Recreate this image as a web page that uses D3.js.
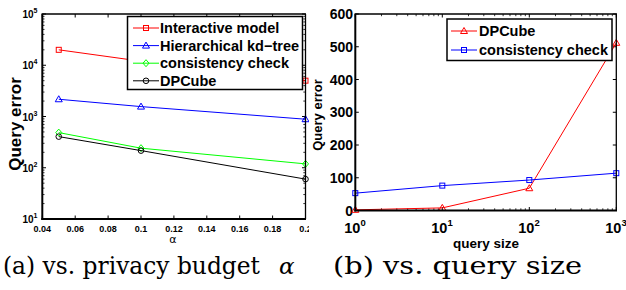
<html>
<head>
<style>
  body { margin: 0; background: #fff; }
  svg text { font-family: "Liberation Sans", Arial, sans-serif; font-weight: bold; }
</style>
</head>
<body>
<div id="fig"></div>
<script src="https://d3js.org/d3.v7.min.js"></script>
<script>
// (a) query error vs privacy budget alpha
const alphaVals = [0.05, 0.1, 0.2];
const interactiveErr = [20000, 12000, 5000];
const kdtreeErr = [2170, 1560, 885];
const consistencyErr = [485, 241, 119];
const dpcubeErr = [405, 216, 60];
const alphaTicks = [0.04, 0.06, 0.08, 0.1, 0.12, 0.14, 0.16, 0.18, 0.2];
const alphaTickLabels = ["0.04", "0.06", "0.08", "0.1", "0.12", "0.14", "0.16", "0.18", "0.2"];
const errExponents = [1, 2, 3, 4, 5];

// (b) query error vs query size
const querySizes = [1, 10, 100, 1000];
const dpcubeBySize = [2, 8, 68, 512];
const consistencyBySize = [53, 76, 93, 114];
const sizeExponents = [0, 1, 2, 3];
const errTicksB = [0, 100, 200, 300, 400, 500, 600];

const svg = d3.select("#fig").append("svg")
    .attr("width", 626).attr("height", 290);
svg.append("rect").attr("width", 626).attr("height", 290).attr("fill", "#fff");

// marker shapes
function marker(g, shape, cx, cy, color) {
    if (shape === "square") {
        g.append("rect").attr("x", cx - 2.5).attr("y", cy - 2.5).attr("width", 5).attr("height", 5)
            .attr("fill", "none").attr("stroke", color).attr("stroke-width", 1);
    } else if (shape === "triangle") {
        g.append("path").attr("d", `M${cx},${cy - 3.5}L${cx + 3.5},${cy + 2.5}L${cx - 3.5},${cy + 2.5}Z`)
            .attr("fill", "none").attr("stroke", color).attr("stroke-width", 1);
    } else if (shape === "diamond") {
        g.append("path").attr("d", `M${cx},${cy - 3.5}L${cx + 3},${cy}L${cx},${cy + 3.5}L${cx - 3},${cy}Z`)
            .attr("fill", "none").attr("stroke", color).attr("stroke-width", 1);
    } else {
        g.append("circle").attr("cx", cx).attr("cy", cy).attr("r", 2.8)
            .attr("fill", "none").attr("stroke", color).attr("stroke-width", 1);
    }
}

function series(g, xs, ys, x, y, color, shape) {
    const pts = xs.map((v, i) => [x(v), y(ys[i])]);
    g.append("path").attr("d", d3.line()(pts))
        .attr("fill", "none").attr("stroke", color).attr("stroke-width", 1);
    pts.forEach(p => marker(g, shape, p[0], p[1], color));
}

function legend(g, x0, y0, w, h, rows, lineX, textX, rowYs) {
    g.append("rect").attr("x", x0).attr("y", y0).attr("width", w).attr("height", h)
        .attr("fill", "#fff").attr("stroke", "#000").attr("stroke-width", 1.5);
    rows.forEach((r, i) => {
        const yy = rowYs[i];
        g.append("line").attr("x1", lineX).attr("x2", lineX + 26).attr("y1", yy).attr("y2", yy)
            .attr("stroke", r.color).attr("stroke-width", 1);
        marker(g, r.shape, lineX + 13, yy, r.color);
        g.append("text").attr("x", textX).attr("y", yy + 5)
            .style("font-size", "14.5px").text(r.name);
    });
}

// ---------- (a) ----------
svg.append("clipPath").attr("id", "clipA")
    .append("rect").attr("x", 0).attr("y", 0).attr("width", 309).attr("height", 290);
const gA = svg.append("g").attr("clip-path", "url(#clipA)");

const xA = d3.scaleLinear().domain([0.04, 0.2]).range([42.3, 305.5]);
const yA = d3.scaleLog().domain([10, 1e5]).range([219, 14]);

// minor log ticks
const minorA = [];
for (let e = 1; e < 5; e++) for (let k = 2; k <= 9; k++) minorA.push(k * Math.pow(10, e));

gA.append("g").selectAll("line").data(minorA).join("line")
    .attr("x1", 42.3).attr("x2", 44.5).attr("y1", d => yA(d)).attr("y2", d => yA(d))
    .attr("stroke", "#000").attr("stroke-width", 0.8);
gA.append("g").selectAll("line").data(minorA).join("line")
    .attr("x1", 305.5).attr("x2", 303.3).attr("y1", d => yA(d)).attr("y2", d => yA(d))
    .attr("stroke", "#000").attr("stroke-width", 0.8);

// major ticks
gA.append("g").selectAll("line").data(errExponents).join("line")
    .attr("x1", 42.3).attr("x2", 46).attr("y1", d => yA(Math.pow(10, d))).attr("y2", d => yA(Math.pow(10, d)))
    .attr("stroke", "#000");
gA.append("g").selectAll("line").data(errExponents).join("line")
    .attr("x1", 305.5).attr("x2", 302).attr("y1", d => yA(Math.pow(10, d))).attr("y2", d => yA(Math.pow(10, d)))
    .attr("stroke", "#000");
gA.append("g").selectAll("line").data(alphaTicks).join("line")
    .attr("x1", d => xA(d)).attr("x2", d => xA(d)).attr("y1", 219).attr("y2", 215.5)
    .attr("stroke", "#000");
gA.append("g").selectAll("line").data(alphaTicks).join("line")
    .attr("x1", d => xA(d)).attr("x2", d => xA(d)).attr("y1", 14).attr("y2", 17.5)
    .attr("stroke", "#000");

// y tick labels 10^n
const yLabA = gA.append("g").selectAll("text").data(errExponents).join("text")
    .attr("x", 37.5).attr("y", d => yA(Math.pow(10, d)) + 4)
    .attr("text-anchor", "end").style("font-size", "10px");
yLabA.append("tspan").text("10");
yLabA.append("tspan").attr("dy", -5).style("font-size", "7px").text(d => d);

// x tick labels
gA.append("g").selectAll("text").data(alphaTicks).join("text")
    .attr("x", d => xA(d)).attr("y", 231.5).attr("text-anchor", "middle")
    .style("font-size", "9px").text((d, i) => alphaTickLabels[i]);

// series
series(gA, alphaVals, interactiveErr, xA, yA, "#ff0000", "square");
series(gA, alphaVals, kdtreeErr, xA, yA, "#0000ff", "triangle");
series(gA, alphaVals, consistencyErr, xA, yA, "#00ff00", "diamond");
series(gA, alphaVals, dpcubeErr, xA, yA, "#000000", "circle");

// frame
gA.append("line").attr("x1", 42.3).attr("x2", 306).attr("y1", 14).attr("y2", 14).attr("stroke", "#000").attr("stroke-width", 1.3);
gA.append("line").attr("x1", 305.5).attr("x2", 305.5).attr("y1", 14).attr("y2", 219).attr("stroke", "#000").attr("stroke-width", 1.3);
gA.append("line").attr("x1", 42.3).attr("x2", 42.3).attr("y1", 13.5).attr("y2", 220).attr("stroke", "#000").attr("stroke-width", 2);
gA.append("line").attr("x1", 41.3).attr("x2", 306).attr("y1", 219).attr("y2", 219).attr("stroke", "#000").attr("stroke-width", 2);

legend(gA, 127.5, 16.5, 175, 73, [
    { name: "Interactive model", color: "#ff0000", shape: "square" },
    { name: "Hierarchical kd\u2212tree", color: "#0000ff", shape: "triangle" },
    { name: "consistency check", color: "#00ff00", shape: "diamond" },
    { name: "DPCube", color: "#000000", shape: "circle" }
], 133, 160, [28, 45.6, 63.2, 80.8]);

// axis labels
gA.append("text").attr("transform", "translate(21,124) rotate(-90)")
    .attr("text-anchor", "middle").style("font-size", "17px").text("Query error");
gA.append("text").attr("x", 173).attr("y", 243).attr("text-anchor", "middle")
    .style("font-family", "'DejaVu Sans', sans-serif").style("font-weight", "normal")
    .style("font-size", "11px").text("\u03b1");

// ---------- (b) ----------
const gB = svg.append("g");
const xB = d3.scaleLog().domain([1, 1000]).range([355.3, 616.3]);
const yB = d3.scaleLinear().domain([0, 600]).range([210.5, 14]);

const minorB = [];
for (let e = 0; e < 3; e++) for (let k = 2; k <= 9; k++) minorB.push(k * Math.pow(10, e));

gB.append("g").selectAll("line").data(minorB).join("line")
    .attr("x1", d => xB(d)).attr("x2", d => xB(d)).attr("y1", 210.5).attr("y2", 208.3)
    .attr("stroke", "#000").attr("stroke-width", 0.8);
gB.append("g").selectAll("line").data(minorB).join("line")
    .attr("x1", d => xB(d)).attr("x2", d => xB(d)).attr("y1", 14).attr("y2", 16.2)
    .attr("stroke", "#000").attr("stroke-width", 0.8);
gB.append("g").selectAll("line").data(sizeExponents).join("line")
    .attr("x1", d => xB(Math.pow(10, d))).attr("x2", d => xB(Math.pow(10, d))).attr("y1", 210.5).attr("y2", 207)
    .attr("stroke", "#000");
gB.append("g").selectAll("line").data(sizeExponents).join("line")
    .attr("x1", d => xB(Math.pow(10, d))).attr("x2", d => xB(Math.pow(10, d))).attr("y1", 14).attr("y2", 17.5)
    .attr("stroke", "#000");
gB.append("g").selectAll("line").data(errTicksB).join("line")
    .attr("x1", 355.3).attr("x2", 358.8).attr("y1", d => yB(d)).attr("y2", d => yB(d))
    .attr("stroke", "#000");
gB.append("g").selectAll("line").data(errTicksB).join("line")
    .attr("x1", 616.3).attr("x2", 612.8).attr("y1", d => yB(d)).attr("y2", d => yB(d))
    .attr("stroke", "#000");

// y tick labels
gB.append("g").selectAll("text").data(errTicksB).join("text")
    .attr("x", 353).attr("y", d => yB(d) + 5).attr("text-anchor", "end")
    .style("font-size", "14px").text(d => d);

// x tick labels 10^n
const xLabB = gB.append("g").selectAll("text").data(sizeExponents).join("text")
    .attr("x", d => xB(Math.pow(10, d)) - 11).attr("y", 233)
    .style("font-size", "14.5px");
xLabB.append("tspan").text("10");
xLabB.append("tspan").attr("dy", -7).style("font-size", "9.5px").text(d => d);

series(gB, querySizes, dpcubeBySize, xB, yB, "#ff0000", "triangle");
series(gB, querySizes, consistencyBySize, xB, yB, "#0000ff", "square");

gB.append("line").attr("x1", 355.3).attr("x2", 617).attr("y1", 14).attr("y2", 14).attr("stroke", "#000").attr("stroke-width", 1.3);
gB.append("line").attr("x1", 616.3).attr("x2", 616.3).attr("y1", 14).attr("y2", 210.5).attr("stroke", "#000").attr("stroke-width", 1.3);
gB.append("line").attr("x1", 355.3).attr("x2", 355.3).attr("y1", 13.5).attr("y2", 211.5).attr("stroke", "#000").attr("stroke-width", 2);
gB.append("line").attr("x1", 354.3).attr("x2", 617).attr("y1", 210.5).attr("y2", 210.5).attr("stroke", "#000").attr("stroke-width", 2);

legend(gB, 447, 19, 165, 41.5, [
    { name: "DPCube", color: "#ff0000", shape: "triangle" },
    { name: "consistency check", color: "#0000ff", shape: "square" }
], 451, 479, [31, 50]);

gB.append("text").attr("transform", "translate(322,115) rotate(-90)")
    .attr("text-anchor", "middle").style("font-size", "13px").text("Query error");
gB.append("text").attr("x", 486).attr("y", 248).attr("text-anchor", "middle")
    .style("font-size", "13.5px").text("query size");

// ---------- captions ----------
svg.append("text").attr("x", 3).attr("y", 274)
    .attr("textLength", 257).attr("lengthAdjust", "spacingAndGlyphs")
    .style("font-family", "'DejaVu Serif', serif").style("font-weight", "normal").style("font-size", "25px")
    .text("(a) vs. privacy budget");
svg.append("text").attr("x", 279).attr("y", 274)
    .style("font-family", "'DejaVu Serif', serif").style("font-weight", "normal")
    .style("font-style", "italic").style("font-size", "23px")
    .text("\u03b1");
svg.append("text").attr("x", 333).attr("y", 274)
    .attr("textLength", 249).attr("lengthAdjust", "spacingAndGlyphs")
    .style("font-family", "'DejaVu Serif', serif").style("font-weight", "normal").style("font-size", "25px")
    .text("(b) vs. query size");
</script>
</body>
</html>
